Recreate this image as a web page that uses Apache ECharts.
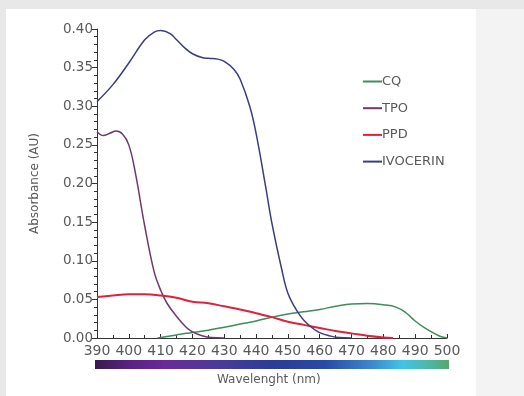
<!DOCTYPE html>
<html><head><meta charset="utf-8">
<script src="https://cdn.jsdelivr.net/npm/echarts@6/dist/echarts.min.js"></script>
<style>html,body{margin:0;padding:0;background:#e8e8e8;}#c{width:524px;height:396px;}</style>
</head><body><div id="c"></div>
<script>
var xTicks = [390,400,410,420,430,440,450,460,470,480,490,500];
var yTicks = [0,0.05,0.10,0.15,0.20,0.25,0.30,0.35,0.40];
var seriesNames = ['CQ','TPO','PPD','IVOCERIN'];

var cqWl  = [409,412,415,418,420,425,430,435,440,445,450,455,460,465,470,475,480,484,487,490,493,496,498,500];
var cqAbs = [0,0.002,0.004,0.006,0.007,0.010,0.014,0.018,0.022,0.027,0.031,0.034,0.037,0.041,0.044,0.0445,0.043,0.040,0.033,0.022,0.013,0.006,0.002,0];

var tpoWl  = [390,392,394,396,398,400,402,405,408,410,412,415,418,420,423,426,430];
var tpoAbs = [0.267,0.262,0.265,0.268,0.264,0.250,0.215,0.145,0.085,0.062,0.045,0.028,0.014,0.008,0.003,0.0005,0];

var ppdWl  = [390,395,400,405,410,415,420,425,430,435,440,445,450,455,460,465,470,475,480,483];
var ppdAbs = [0.053,0.055,0.0565,0.0565,0.055,0.052,0.047,0.045,0.041,0.037,0.032,0.027,0.021,0.017,0.013,0.009,0.006,0.003,0.0008,0];

var ivoWl  = [390,395,400,405,408,410,413,415,418,420,423,425,428,430,433,435,438,440,443,445,448,450,453,455,458,460,463,466,470];
var ivoAbs = [0.306,0.328,0.356,0.386,0.396,0.398,0.394,0.386,0.374,0.368,0.363,0.362,0.361,0.358,0.348,0.335,0.300,0.265,0.196,0.148,0.090,0.058,0.034,0.023,0.012,0.007,0.003,0.0005,0];

function pairs(a,b){return a.map(function(v,i){return [v,b[i]];});}

var colors = ['#3f8d5c','#6e3a6c','#e0213b','#3b3e7c'];
var chart = echarts.init(document.getElementById('c'),null,{renderer:'canvas'});
var txt = '#5a5a5a';
var font = 'DejaVu Sans';
chart.setOption({
  animation:false,
  backgroundColor:'#e8e8e8',
  color:colors,
  graphic:[
    {type:'rect',z:-10,shape:{x:6,y:9,width:470,height:387},style:{fill:'#ffffff'}},
    {type:'rect',z:-10,shape:{x:476,y:9,width:48,height:387},style:{fill:'#f3f3f3'}},
    {type:'rect',shape:{x:95,y:360,width:354,height:9},style:{fill:new echarts.graphic.LinearGradient(0,0,1,0,[
      {offset:0,color:'#3a1a4c'},{offset:0.1,color:'#5a2284'},{offset:0.2,color:'#6a2a98'},
      {offset:0.35,color:'#4a3a9c'},{offset:0.5,color:'#2c3c96'},{offset:0.65,color:'#2a4aa6'},
      {offset:0.78,color:'#3a88cc'},{offset:0.87,color:'#42c4e6'},{offset:0.94,color:'#4cb8a8'},{offset:1,color:'#56a868'}])}},
    {type:'text',left:217,top:374,style:{text:'Wavelenght (nm)',font:'12px "DejaVu Sans"',fill:txt}}
  ],
  legend:{
    orient:'vertical',left:358,top:70,itemWidth:19,itemHeight:2,itemGap:13.7,
    icon:'rect',
    data:seriesNames,
    textStyle:{fontFamily:font,fontSize:13,color:txt,padding:[0,0,0,-5]}
  },
  grid:{left:97,right:77,top:29,bottom:58,containLabel:false},
  xAxis:{
    type:'value',min:390,max:500,interval:10,
    axisLine:{lineStyle:{color:'#333',width:1}},
    axisTick:{show:true,inside:true,length:4,lineStyle:{color:'#333'}},
    minorTick:{show:true,splitNumber:2,length:3,lineStyle:{color:'#333'}},
    splitLine:{show:false},
    axisLabel:{fontFamily:font,fontSize:14,color:txt,margin:6,
      formatter:function(v){return xTicks.indexOf(v)>=0?String(v):'';}}
  },
  yAxis:{
    type:'value',min:0,max:0.4,interval:0.05,
    name:'Absorbance (AU)',nameLocation:'middle',nameGap:56,
    nameTextStyle:{fontFamily:font,fontSize:12,color:txt},
    axisLine:{show:true,lineStyle:{color:'#333',width:1}},
    axisTick:{show:true,length:5,lineStyle:{color:'#333'}},
    minorTick:{show:true,splitNumber:5,length:3,lineStyle:{color:'#333'}},
    splitLine:{show:false},
    axisLabel:{fontFamily:font,fontSize:13.5,color:txt,margin:4,
      formatter:function(v){return v.toFixed(2);}}
  },
  series:[
    {name:'CQ',type:'line',symbol:'none',smooth:0.4,data:pairs(cqWl,cqAbs),lineStyle:{width:1.5}},
    {name:'TPO',type:'line',symbol:'none',smooth:0.4,data:pairs(tpoWl,tpoAbs),lineStyle:{width:1.5}},
    {name:'PPD',type:'line',symbol:'none',smooth:0.4,data:pairs(ppdWl,ppdAbs),lineStyle:{width:2}},
    {name:'IVOCERIN',type:'line',symbol:'none',smooth:0.4,data:pairs(ivoWl,ivoAbs),lineStyle:{width:1.5}}
  ]
});
</script></body></html>
